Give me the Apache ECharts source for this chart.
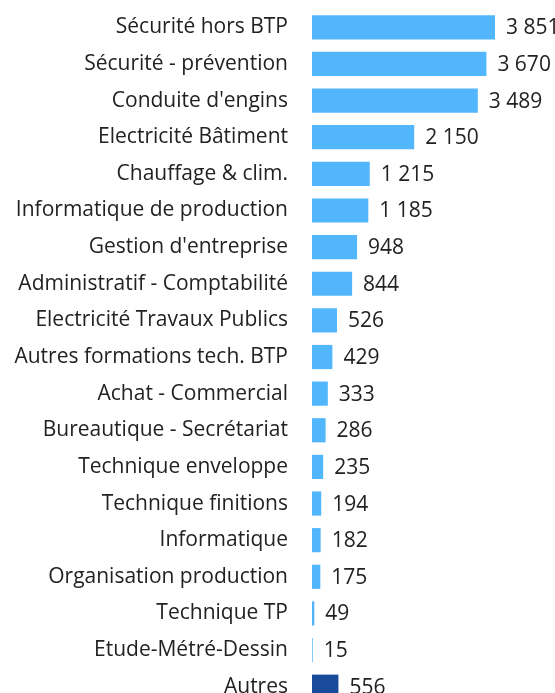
<!DOCTYPE html>
<html>
<head>
<meta charset="utf-8">
<script src="https://cdn.jsdelivr.net/npm/echarts@6/dist/echarts.min.js"></script>
<style>
  html, body { margin: 0; padding: 0; background: #fff; overflow: hidden; }
  /* le graphique déborde en bas de la fenêtre, comme dans l'original */
  #chart { width: 555px; height: 720px; }
</style>
</head>
<body>
<div id="chart"></div>
<script>
// catégories, de haut en bas
const categories = [
  'Sécurité hors BTP', 'Sécurité - prévention', "Conduite d'engins",
  'Electricité Bâtiment', 'Chauffage & clim.', 'Informatique de production',
  "Gestion d'entreprise", 'Administratif - Comptabilité', 'Electricité Travaux Publics',
  'Autres formations tech. BTP', 'Achat - Commercial', 'Bureautique - Secrétariat',
  'Technique enveloppe', 'Technique finitions', 'Informatique',
  'Organisation production', 'Technique TP', 'Etude-Métré-Dessin', 'Autres'
]
const values = [3851, 3670, 3489, 2150, 1215, 1185, 948, 844, 526, 429, 333, 286, 235, 194, 182, 175, 49, 15, 556]
// la dernière barre (Autres) est en bleu foncé
const highlighted = ['Autres']

const lightBlue = '#52b6fd'
const darkBlue = '#1a4b9b'

const chart = echarts.init(document.getElementById('chart'))

const fmt = (v) => String(v).replace(/\B(?=(\d{3})+(?!\d))/g, ' ')

chart.setOption({
  animation: false,
  grid: {
    left: 312,
    top: 9,
    width: 237.6,
    height: 696,
    containLabel: false
  },
  xAxis: {
    type: 'value',
    min: 0,
    max: 5000,
    show: false
  },
  yAxis: {
    type: 'category',
    inverse: true,
    data: categories,
    axisLine: { show: false },
    axisTick: { show: false },
    axisLabel: {
      margin: 24,
      color: '#222',
      fontFamily: 'Open Sans',
      fontSize: 21
    }
  },
  series: [
    {
      type: 'bar',
      barCategoryGap: '34%',
      data: values.map((v, i) => ({
        value: v,
        itemStyle: { color: highlighted.includes(categories[i]) ? darkBlue : lightBlue }
      })),
      label: {
        show: true,
        position: 'right',
        distance: 11,
        offset: [0, 1],
        color: '#222',
        fontFamily: 'Open Sans',
        fontSize: 21,
        formatter: (p) => fmt(p.value)
      }
    }
  ]
})
</script>
</body>
</html>
